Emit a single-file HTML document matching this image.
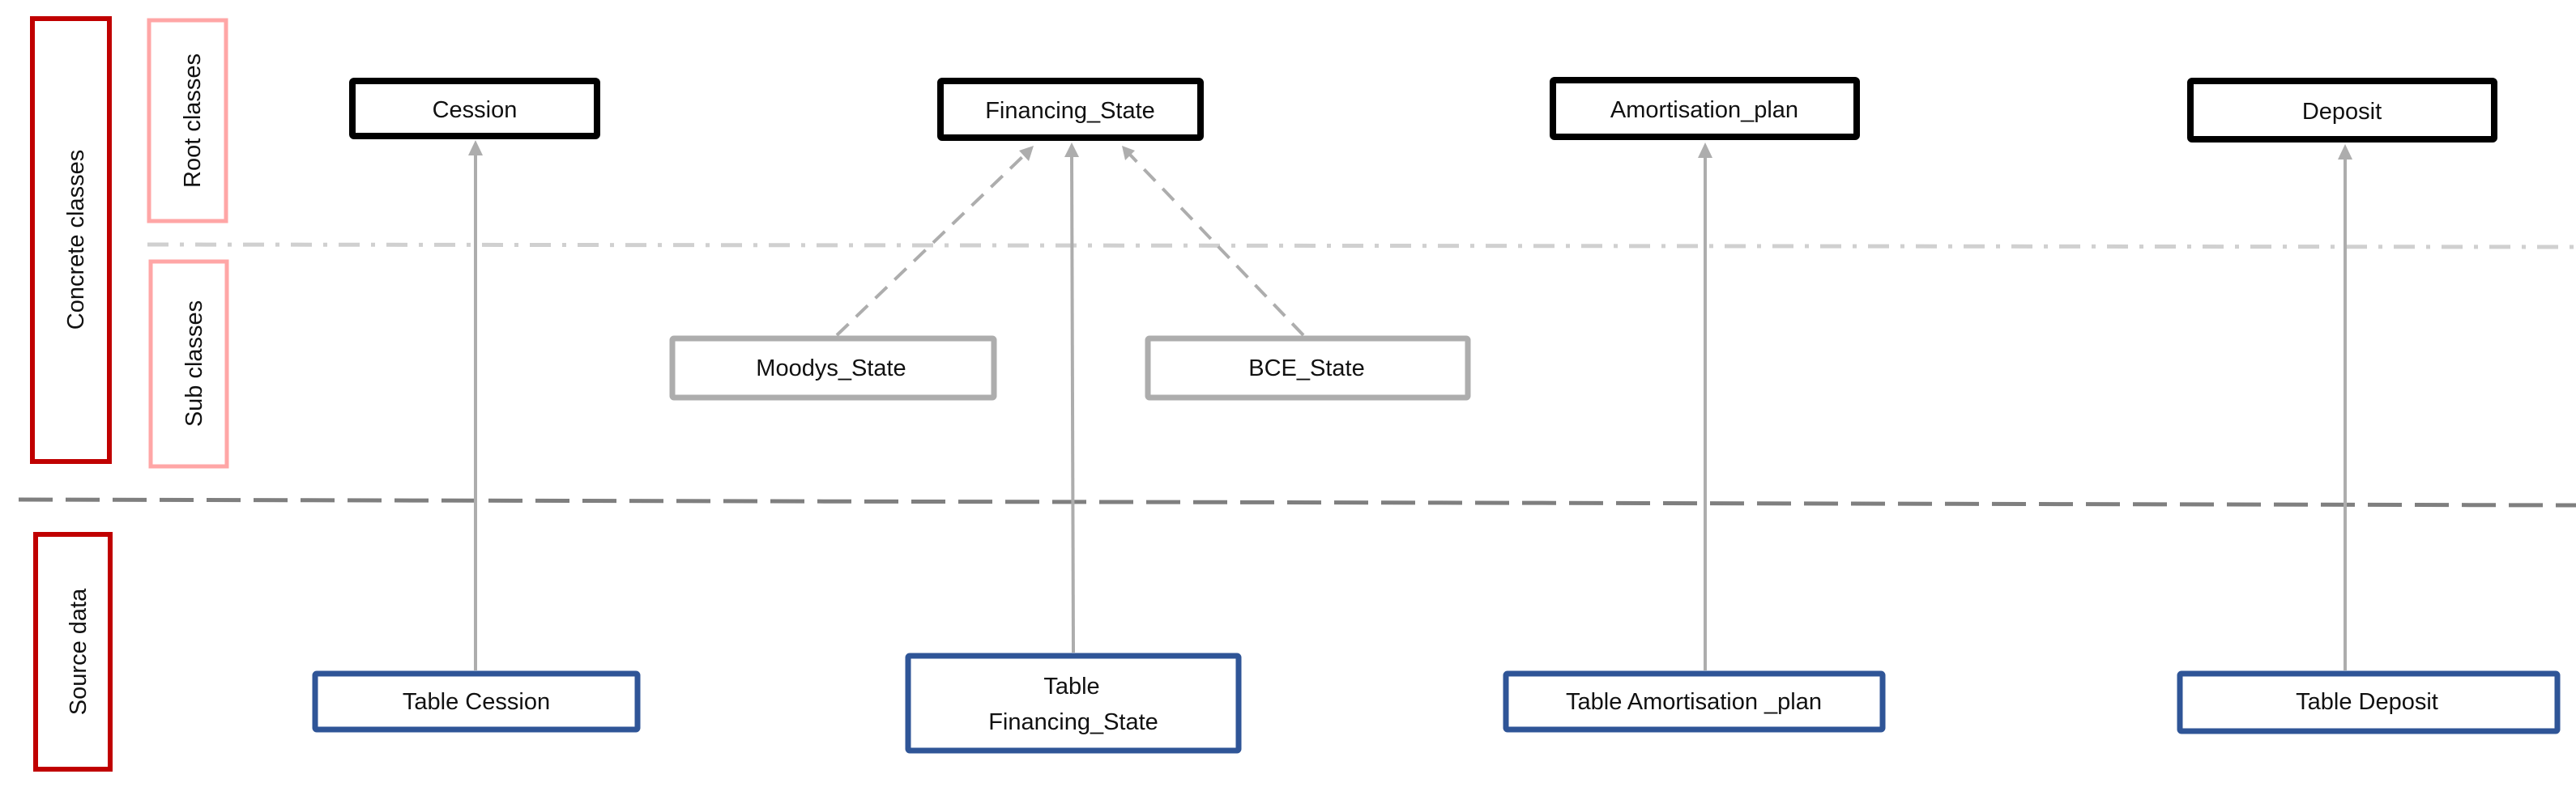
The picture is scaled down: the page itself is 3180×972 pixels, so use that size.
<!DOCTYPE html>
<html><head><meta charset="utf-8"><style>
html,body{margin:0;padding:0;background:#fff;}
svg{display:block}
text{font-family:"Liberation Sans",sans-serif;font-size:29px;fill:#111;}
</style></head><body>
<svg width="3180" height="972" viewBox="0 0 3180 972" xmlns="http://www.w3.org/2000/svg">
<defs>
<marker id="ah" markerWidth="10" markerHeight="10" refX="5" refY="5" orient="auto" markerUnits="userSpaceOnUse" viewBox="0 0 10 10">
</marker>
</defs>
<!-- separator lines -->
<line x1="182" y1="302" x2="3180" y2="305" stroke="#d0d0d0" stroke-width="5" stroke-dasharray="26,14,5,14"/>
<line x1="23" y1="617" x2="3180" y2="624" stroke="#7f7f7f" stroke-width="5" stroke-dasharray="42,16"/>

<!-- left labels -->
<rect x="40" y="23" width="95" height="547" fill="none" stroke="#c00000" stroke-width="6"/>
<text transform="translate(103,296) rotate(-90)" text-anchor="middle">Concrete classes</text>
<rect x="184" y="25" width="95" height="248" fill="none" stroke="#ffa6a6" stroke-width="5"/>
<text transform="translate(247,149) rotate(-90)" text-anchor="middle">Root classes</text>
<rect x="186" y="323" width="94" height="253" fill="none" stroke="#ffa6a6" stroke-width="5"/>
<text transform="translate(249,449) rotate(-90)" text-anchor="middle">Sub classes</text>
<rect x="44" y="660" width="92" height="290" fill="none" stroke="#c00000" stroke-width="6"/>
<text transform="translate(106,805) rotate(-90)" text-anchor="middle">Source data</text>

<!-- arrows -->
<g stroke="#adadad" stroke-width="4" fill="none">
<line x1="587" y1="828" x2="587" y2="185"/>
<line x1="1325" y1="806" x2="1323" y2="190"/>
<line x1="2105" y1="828" x2="2105" y2="188"/>
<line x1="2895" y1="828" x2="2895" y2="190"/>
<line x1="1033" y1="414" x2="1266" y2="190" stroke-dasharray="20,13"/>
<line x1="1609" y1="414" x2="1394" y2="190" stroke-dasharray="20,13"/>
</g>
<g fill="#adadad">
<polygon points="587,173 578,192 596,192"/>
<polygon points="1323,176 1314,194 1332,194"/>
<polygon points="2105,176 2096,195 2114,195"/>
<polygon points="2895,178 2886,197 2904,197"/>
<polygon points="1276,180 1258,186 1270,199"/>
<polygon points="1385,180 1389,198 1401,186"/>
</g>

<!-- root classes -->
<g fill="#fff" stroke="#000" stroke-width="8">
<rect x="435" y="100" width="302" height="68" rx="2"/>
<rect x="1161" y="100" width="321" height="70" rx="2"/>
<rect x="1917" y="99" width="375" height="70" rx="2"/>
<rect x="2704" y="100" width="375" height="72" rx="2"/>
</g>
<text x="586" y="145" text-anchor="middle">Cession</text>
<text x="1321" y="146" text-anchor="middle">Financing_State</text>
<text x="2104" y="145" text-anchor="middle">Amortisation_plan</text>
<text x="2891" y="147" text-anchor="middle">Deposit</text>

<!-- sub classes -->
<g fill="#fff" stroke="#adadad" stroke-width="7">
<rect x="830" y="418" width="397" height="73" rx="2"/>
<rect x="1417" y="418" width="395" height="73" rx="2"/>
</g>
<text x="1026" y="464" text-anchor="middle">Moodys_State</text>
<text x="1613" y="464" text-anchor="middle">BCE_State</text>

<!-- source tables -->
<g fill="#fff" stroke="#2f5597" stroke-width="7">
<rect x="389" y="832" width="398" height="69" rx="2"/>
<rect x="1121" y="810" width="408" height="117" rx="2"/>
<rect x="1859" y="832" width="465" height="69" rx="2"/>
<rect x="2691" y="832" width="466" height="71" rx="2"/>
</g>
<text x="588" y="876" text-anchor="middle">Table Cession</text>
<text x="1323" y="857" text-anchor="middle">Table</text>
<text x="1325" y="901" text-anchor="middle">Financing_State</text>
<text x="2091" y="876" text-anchor="middle">Table Amortisation _plan</text>
<text x="2922" y="876" text-anchor="middle">Table Deposit</text>
</svg>
</body></html>
